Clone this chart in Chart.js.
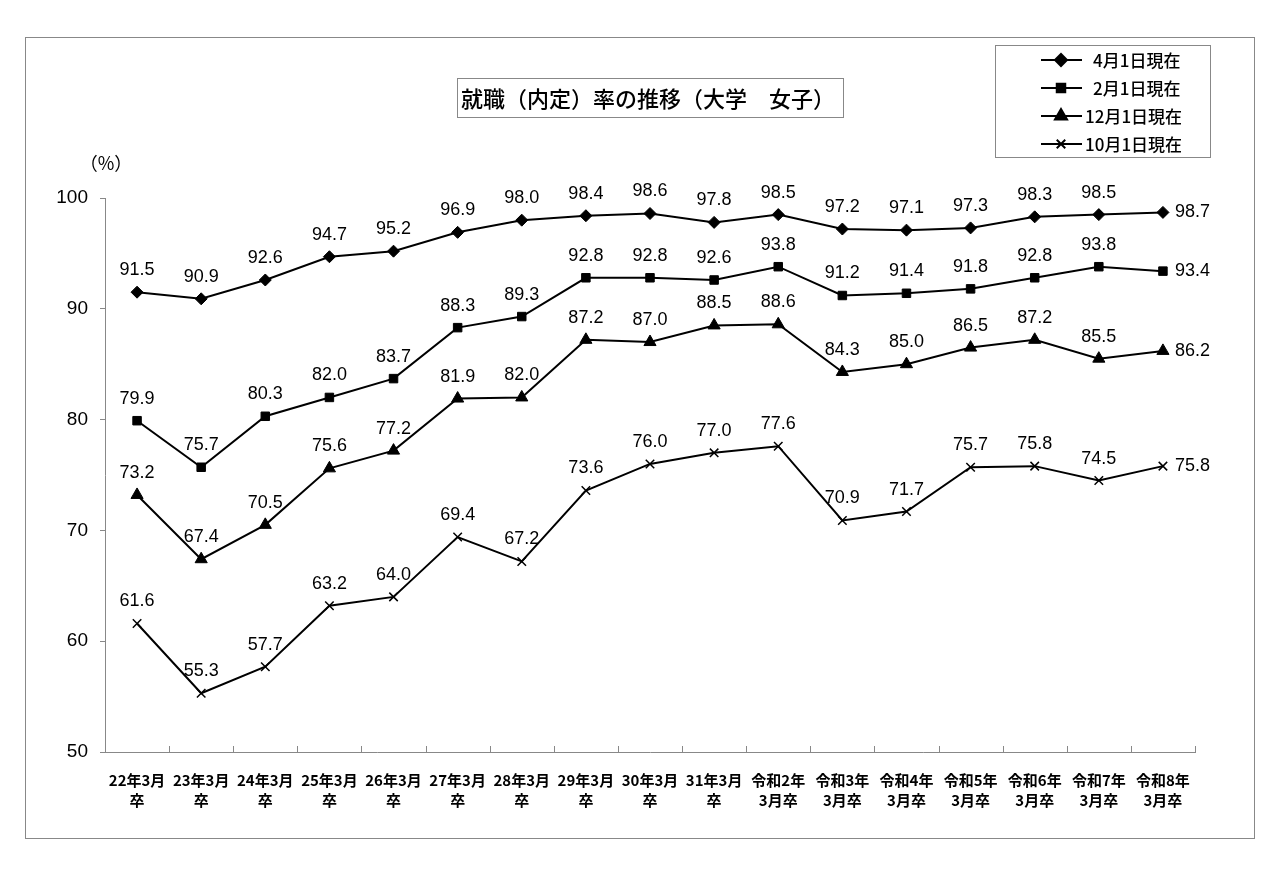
<!DOCTYPE html>
<html>
<head>
<meta charset="utf-8">
<script src="https://cdn.jsdelivr.net/npm/chart.js@4.4.0/dist/chart.umd.min.js"></script>
<style>
  body { margin: 0; background: #fff; }
  #wrap { width: 1280px; height: 889px; }
</style>
</head>
<body>
<div id="wrap"><canvas id="chart" width="1280" height="889"></canvas></div>
<script>
// 卒業年次
const categories = [
  ['22年3月', '卒'], ['23年3月', '卒'], ['24年3月', '卒'], ['25年3月', '卒'],
  ['26年3月', '卒'], ['27年3月', '卒'], ['28年3月', '卒'], ['29年3月', '卒'],
  ['30年3月', '卒'], ['31年3月', '卒'], ['令和2年', '3月卒'], ['令和3年', '3月卒'],
  ['令和4年', '3月卒'], ['令和5年', '3月卒'], ['令和6年', '3月卒'], ['令和7年', '3月卒'],
  ['令和8年', '3月卒']
];

const apr1 = [91.5, 90.9, 92.6, 94.7, 95.2, 96.9, 98.0, 98.4, 98.6, 97.8, 98.5, 97.2, 97.1, 97.3, 98.3, 98.5, 98.7];
const feb1 = [79.9, 75.7, 80.3, 82.0, 83.7, 88.3, 89.3, 92.8, 92.8, 92.6, 93.8, 91.2, 91.4, 91.8, 92.8, 93.8, 93.4];
const dec1 = [73.2, 67.4, 70.5, 75.6, 77.2, 81.9, 82.0, 87.2, 87.0, 88.5, 88.6, 84.3, 85.0, 86.5, 87.2, 85.5, 86.2];
const oct1 = [61.6, 55.3, 57.7, 63.2, 64.0, 69.4, 67.2, 73.6, 76.0, 77.0, 77.6, 70.9, 71.7, 75.7, 75.8, 74.5, 75.8];

const seriesNames = ['4月1日現在', '2月1日現在', '12月1日現在', '10月1日現在'];
const yTicks = [50, 60, 70, 80, 90, 100];

const titleText = '就職（内定）率の推移（大学　女子）';
const jpFont = '"Noto Sans CJK JP", "Noto Sans", sans-serif';
const numFont = '"Liberation Sans", Arial, sans-serif';

function series(label, data, style, radius) {
  return {
    label: label,
    data: data,
    borderColor: '#000',
    backgroundColor: '#000',
    borderWidth: 2,
    pointStyle: style,
    pointRadius: radius,
    pointBorderColor: '#000',
    pointBackgroundColor: '#000',
    pointBorderWidth: style === 'crossRot' ? 1.5 : 1,
    tension: 0
  };
}

// 外枠・タイトル・凡例・目盛・数値ラベル
const decorations = {
  id: 'decorations',
  beforeDraw(chart) {
    const ctx = chart.ctx;
    ctx.save();
    ctx.fillStyle = '#fff';
    ctx.fillRect(0, 0, chart.width, chart.height);
    ctx.strokeStyle = '#888';
    ctx.lineWidth = 1;
    ctx.strokeRect(25.5, 37.5, 1229, 801);
    ctx.restore();
  },
  afterDraw(chart) {
    const ctx = chart.ctx;
    const xs = chart.scales.x;
    ctx.save();

    // x軸の目盛（内向き）
    ctx.strokeStyle = '#888';
    ctx.lineWidth = 1;
    for (let i = 0; i <= categories.length; i++) {
      const x = Math.round(xs.getPixelForValue(i - 0.5)) + 0.5;
      ctx.beginPath();
      ctx.moveTo(x, chart.chartArea.bottom);
      ctx.lineTo(x, chart.chartArea.bottom - 6);
      ctx.stroke();
    }

    // タイトル
    ctx.strokeRect(457.5, 78.5, 386, 39);
    ctx.fillStyle = '#000';
    ctx.font = '500 22px ' + jpFont;
    ctx.textAlign = 'center';
    ctx.textBaseline = 'middle';
    ctx.fillText(titleText, 648, 99);

    // 単位
    ctx.font = '18px ' + jpFont;
    ctx.fillText('（%）', 106, 163);

    // 凡例
    ctx.strokeStyle = '#888';
    ctx.strokeRect(995.5, 45.5, 215, 112);
    ctx.font = '500 17px ' + jpFont;
    ctx.textAlign = 'left';
    chart.data.datasets.forEach((ds, i) => {
      const y = 60 + i * 28;
      ctx.strokeStyle = '#000';
      ctx.lineWidth = 2;
      ctx.beginPath();
      ctx.moveTo(1041, y);
      ctx.lineTo(1082, y);
      ctx.stroke();
      ctx.fillStyle = '#000';
      Chart.helpers.drawPoint(ctx, {
        pointStyle: ds.pointStyle, radius: ds.pointRadius, borderWidth: ds.pointBorderWidth
      }, 1061, y);
      ctx.fillStyle = '#000';
      const tx = ds.label.length > 6 ? 1085 : 1093;
      ctx.fillText(ds.label, tx, y + 1);
    });

    // 数値ラベル
    ctx.font = '18px ' + numFont;
    ctx.fillStyle = '#000';
    chart.data.datasets.forEach((ds, di) => {
      const meta = chart.getDatasetMeta(di);
      meta.data.forEach((pt, i) => {
        const txt = ds.data[i].toFixed(1);
        ctx.textBaseline = 'middle';
        if (i === ds.data.length - 1) {
          ctx.textAlign = 'left';
          ctx.fillText(txt, pt.x + 12, pt.y);
        } else {
          ctx.textAlign = 'center';
          ctx.fillText(txt, pt.x, pt.y - 22);
        }
      });
    });
    ctx.restore();
  }
};

new Chart(document.getElementById('chart'), {
  type: 'line',
  data: {
    labels: categories,
    datasets: [
      series(seriesNames[0], apr1, 'rectRot', 6),
      series(seriesNames[1], feb1, 'rect', 6),
      series(seriesNames[2], dec1, 'triangle', 7),
      series(seriesNames[3], oct1, 'crossRot', 6)
    ]
  },
  options: {
    responsive: false,
    animation: false,
    devicePixelRatio: 1,
    layout: { padding: { top: 198, right: 85, bottom: 0, left: 0 } },
    plugins: {
      legend: { display: false },
      title: { display: false },
      tooltip: { enabled: false }
    },
    scales: {
      x: {
        type: 'category',
        offset: true,
        grid: { display: false },
        border: { display: true, color: '#888', width: 1 },
        ticks: {
          color: '#000',
          font: { family: jpFont, size: 15, weight: 'bold', lineHeight: 1.35 },
          padding: 10,
          maxRotation: 0,
          autoSkip: false
        },
        afterFit(scale) { scale.height = 137; }
      },
      y: {
        min: 50,
        max: 100,
        afterBuildTicks(scale) { scale.ticks = yTicks.map(v => ({ value: v })); },
        grid: { drawOnChartArea: false, drawTicks: true, tickLength: 5, color: '#888' },
        border: { display: true, color: '#888', width: 1 },
        ticks: {
          color: '#000',
          font: { family: numFont, size: 19 },
          padding: 12
        },
        afterFit(scale) { scale.width = 105; }
      }
    }
  },
  plugins: [decorations]
});
</script>
</body>
</html>
